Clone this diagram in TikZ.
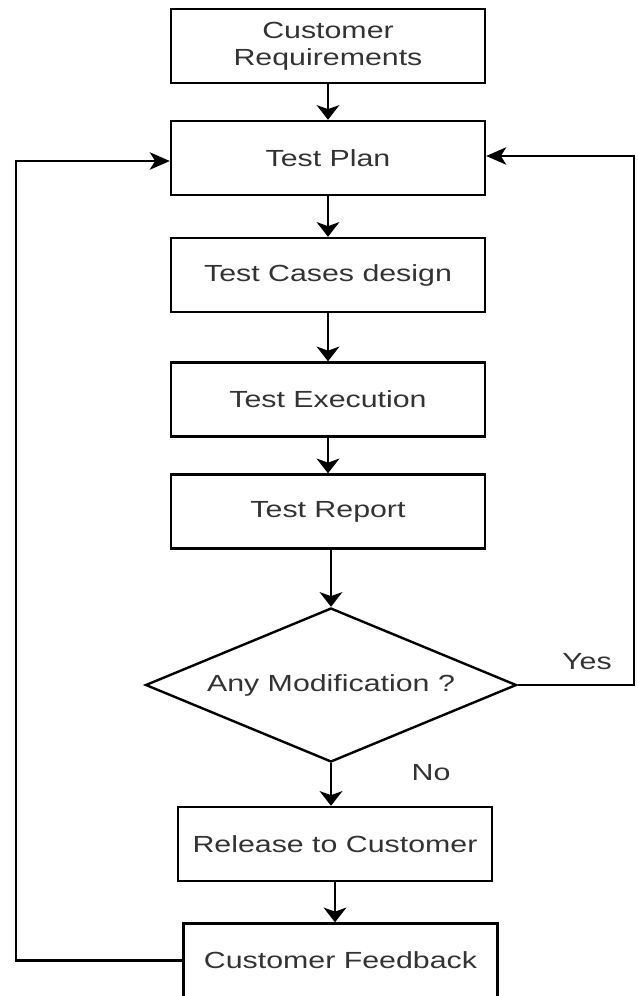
\documentclass[tikz,border=0pt]{standalone}
\usepackage{fontspec}
\setmainfont{Liberation Sans}[FakeStretch=1.3]
\usetikzlibrary{shapes.geometric,arrows.meta}

\tikzset{
  stepbox/.style={draw=black, line width=1.8pt, rectangle, inner sep=0pt,
    minimum width=314*0.75pt, minimum height=74*0.75pt,
    align=center, text=black!80, font=\fontsize{17.5}{20.5}\selectfont},
  decision/.style={draw=black, line width=1.8pt, diamond, inner sep=0pt,
    minimum width=371*0.75pt, minimum height=154*0.75pt,
    text=black!80, font=\fontsize{17.5}{20.5}\selectfont},
  lbl/.style={text=black!80, inner sep=0pt, font=\fontsize{17.5}{20.5}\selectfont},
  flow/.style={line width=1.8pt, draw=black,
    -{Stealth[length=11pt, width=17pt, inset=3pt]}},
  loopflow/.style={line width=1.8pt, draw=black,
    -{Stealth[length=15pt, width=13pt, inset=4pt]}},
}

\begin{document}
\begin{tikzpicture}[x=0.75pt, y=-0.75pt]
  \useasboundingbox (0,0) rectangle (638,996);
  \clip (0,0) rectangle (638,996);

  % process steps
  \node[stepbox] (req)  at (328,46)  {Customer\\Requirements};
  \node[stepbox] (plan) at (328,158) {Test Plan};
  \node[stepbox] (cases) at (328,275) {Test Cases design};
  \node[stepbox] (exec) at (328,399.5) {Test Execution};
  \node[stepbox] (rep)  at (328,511.5) {Test Report};
  \node[decision] (mod) at (331,685) {\makebox[0pt]{Any Modification ?}};
  \node[stepbox] (rel)  at (335,844) {Release to Customer};
  \node[stepbox] (fb)   at (340.5,960.5) {Customer Feedback};

  % loop corners
  \coordinate (yr) at (634,685);
  \coordinate (yt) at (634,156);
  \coordinate (fl) at (16,960.5);
  \coordinate (ft) at (16,161);

  % main flow
  \draw[flow] (req.south)   -- (plan.north);
  \draw[flow] (plan.south)  -- (cases.north);
  \draw[flow] (cases.south) -- (exec.north);
  \draw[flow] (exec.south)  -- (rep.north);
  \draw[flow] (rep.south -| mod.north) -- (mod.north);
  \draw[flow] (mod.south) -- (mod.south |- rel.north);
  \draw[flow] (rel.south) -- (rel.south |- fb.north);

  % feedback loops into the test plan
  \draw[loopflow] (mod.east) -- (yr) -- (yt) -- (yt -| plan.east);
  \draw[loopflow] (fb.west) -- (fl) -- (ft) -- (ft -| plan.west);

  % branch labels
  \node[lbl] (yes) at (587,662) {Yes};
  \node[lbl] (no)  at (431,773) {No};
\end{tikzpicture}
\end{document}
